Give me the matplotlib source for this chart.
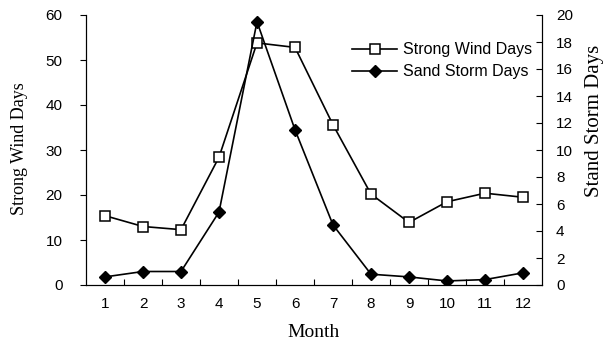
import matplotlib
matplotlib.use("Agg")
import matplotlib.pyplot as plt
from matplotlib.ticker import FixedLocator

months = [1, 2, 3, 4, 5, 6, 7, 8, 9, 10, 11, 12]
month_labels = [str(m) for m in months]
strong_wind = [15.4, 13.0, 12.3, 28.4, 53.8, 52.8, 35.6, 20.2, 13.9, 18.5, 20.4, 19.5]
sand_storm = [0.6, 1.0, 1.0, 5.4, 19.5, 11.5, 4.45, 0.8, 0.6, 0.3, 0.4, 0.9]

sans = "Liberation Sans"
serif = "Liberation Serif"

fig = plt.figure(figsize=(6.11, 3.42), dpi=100)
ax = fig.add_axes([86/611, 1-285/342, (542-86)/611, (285-15)/342])
ax2 = ax.twinx()

l1, = ax.plot(months, strong_wind, color="black", lw=1.2, marker="s", ms=6.5,
              mfc="white", mec="black", mew=1.1, label="Strong Wind Days", zorder=3)
l2, = ax2.plot(months, sand_storm, color="black", lw=1.2, marker="D", ms=6.5,
               mfc="black", mec="black", label="Sand Storm Days", zorder=3)

ax.set_xlim(0.5, 12.5)
ax.set_ylim(0, 60)
ax2.set_ylim(0, 20)
ax.set_xticks(months)
ax.set_xticklabels(month_labels, fontsize=11, family=sans)
ax.xaxis.set_minor_locator(FixedLocator([m + 0.5 for m in months[:-1]]))
ax.tick_params(axis="x", which="major", length=0, pad=9)
ax.tick_params(axis="x", which="minor", direction="in", length=4, width=0.8)
ax.set_yticks(range(0, 61, 10))
ax.tick_params(axis="y", direction="out", length=4, width=0.8, labelsize=11, pad=13)
for t in ax.get_yticklabels():
    t.set_family(sans)
ax2.set_yticks(range(0, 21, 2))
ax2.tick_params(axis="y", direction="in", length=4, width=0.8, labelsize=11, pad=10)
for t in ax2.get_yticklabels():
    t.set_family(sans)

for a in (ax, ax2):
    a.spines["top"].set_visible(False)
    for s in a.spines.values():
        s.set_linewidth(0.8)

ax.set_xlabel("Month", family=serif, fontsize=14)
ax.xaxis.set_label_coords(0.5, -0.145)
ax.set_ylabel("Strong Wind Days", family=serif, fontsize=13)
ax.yaxis.set_label_coords(-0.128, 0.504)
ax2.set_ylabel("Stand Storm Days", family=serif, fontsize=15)
ax2.yaxis.set_label_coords(1.094, 0.607)

leg = ax.legend([l1, l2], ["Strong Wind Days", "Sand Storm Days"], loc="upper right",
                bbox_to_anchor=(1.0, 0.935), frameon=False, prop={"family": sans, "size": 11.5},
                handlelength=2.8, handletextpad=0.4, labelspacing=0.45, borderaxespad=0.2)

fig.savefig("out.png", dpi=100)
